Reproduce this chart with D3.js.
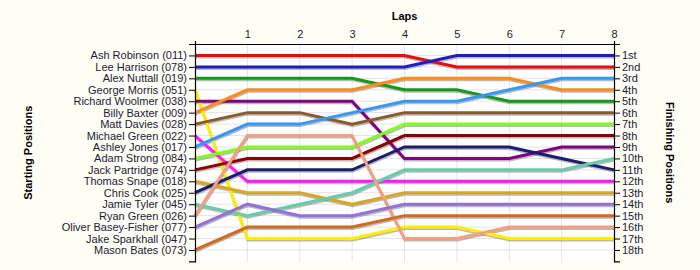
<!DOCTYPE html>
<html>
<head>
<meta charset="utf-8">
<script src="https://cdn.jsdelivr.net/npm/d3@7"></script>
<style>
  body { margin: 0; background: #fefef4; }
  svg { display: block; }
</style>
</head>
<body>
<div class="chart"></div>
<script>
// data
const starters = ["Ash Robinson (011)", "Lee Harrison (078)", "Alex Nuttall (019)", "George Morris (051)",
  "Richard Woolmer (038)", "Billy Baxter (009)", "Matt Davies (028)", "Michael Green (022)",
  "Ashley Jones (017)", "Adam Strong (084)", "Jack Partridge (074)", "Thomas Snape (018)",
  "Chris Cook (025)", "Jamie Tyler (045)", "Ryan Green (026)", "Oliver Basey-Fisher (077)",
  "Jake Sparkhall (047)", "Mason Bates (073)"];
const finishLabels = ["1st", "2nd", "3rd", "4th", "5th", "6th", "7th", "8th", "9th", "10th",
  "11th", "12th", "13th", "14th", "15th", "16th", "17th", "18th"];
const lapTicks = [1, 2, 3, 4, 5, 6, 7, 8];

// position at lap 0..8 for each rider (in starting order), null = no line
const ashRobinson    = [1, 1, 1, 1, 1, 2, 2, 2, 2];
const leeHarrison    = [2, 2, 2, 2, 2, 1, 1, 1, 1];
const alexNuttall    = [3, 3, 3, 3, 4, 4, 5, 5, 5];
const georgeMorris   = [4, 17, 17, 17, 16, 16, 17, 17, 17];
const richardWoolmer = [5, 5, 5, 5, 10, 10, 10, 9, 9];
const billyBaxter    = [6, 4, 4, 4, 3, 3, 3, 4, 4];
const mattDavies     = [7, 6, 6, 7, 6, 6, 6, 6, 6];
const michaelGreen   = [8, 12, 12, 12, 12, 12, 12, 12, 12];
const ashleyJones    = [9, 7, 7, 6, 5, 5, 4, 3, 3];
const adamStrong     = [10, 9, 9, 9, 7, 7, 7, 7, 7];
const jackPartridge  = [11, 10, 10, 10, 8, 8, 8, 8, 8];
const thomasSnape    = [12, 13, 13, 14, 13, 13, 13, 13, 13];
const chrisCook      = [13, 11, 11, 11, 9, 9, 9, 10, 11];
const jamieTyler     = [14, 15, 14, 13, 11, 11, 11, 11, 10];
const ryanGreen      = [15, 8, 8, 8, 17, 17, 16, 16, 16];
const oliverBasey    = [16, 14, 15, 15, 14, 14, 14, 14, 14];
const jakeSparkhall  = null;
const masonBates     = [18, 16, 16, 16, 15, 15, 15, 15, 15];

const riderLaps = [ashRobinson, leeHarrison, alexNuttall, georgeMorris, richardWoolmer, billyBaxter,
  mattDavies, michaelGreen, ashleyJones, adamStrong, jackPartridge, thomasSnape, chrisCook,
  jamieTyler, ryanGreen, oliverBasey, jakeSparkhall, masonBates];

const colors = ["#ee0a0a", "#1c1cc8", "#16991a", "#ffee00", "#800080", "#ff8c1a", "#8b5a2b", "#ff1aff",
  "#3399ff", "#80ff1a", "#8b0000", "#daa520", "#1c1c70", "#66cdaa", "#f4a080", "#9370db",
  "#ffffff", "#d2691e"];

const W = 700, H = 270;
const plotLeft = 195, plotRight = 614, plotTop = 44, plotBottom = 261.4;

const svg = d3.select(".chart").append("svg")
  .attr("width", W).attr("height", H)
  .style("font-family", "'Liberation Sans', Arial, sans-serif");

const xScale = d3.scaleLinear().domain([0, 8]).range([plotLeft, plotRight]);
const yScale = d3.scaleLinear().domain([0, 19]).range([plotTop, plotBottom]);

// plot area
svg.append("rect")
  .attr("x", plotLeft).attr("y", plotTop)
  .attr("width", plotRight - plotLeft).attr("height", plotBottom - plotTop)
  .attr("fill", "#ffffff");

// gridlines
svg.append("g").selectAll("line")
  .data(lapTicks.slice(0, 7))
  .enter().append("line")
  .attr("x1", d => xScale(d)).attr("x2", d => xScale(d))
  .attr("y1", plotTop).attr("y2", plotBottom)
  .attr("stroke", "#e4e4e4");
svg.append("g").selectAll("line")
  .data(d3.range(1, 19))
  .enter().append("line")
  .attr("x1", plotLeft).attr("x2", plotRight)
  .attr("y1", d => yScale(d)).attr("y2", d => yScale(d))
  .attr("stroke", "#e4e4e4");

// rider lines
const line = d3.line()
  .x((d, i) => xScale(i))
  .y(d => yScale(d));

const drawn = riderLaps.map((d, i) => ({laps: d, color: colors[i]})).filter(d => d.laps);

svg.append("g").selectAll("path")
  .data(drawn)
  .enter().append("path")
  .attr("d", d => line(d.laps))
  .attr("fill", "none")
  .attr("stroke", "#666")
  .attr("stroke-opacity", 0.45)
  .attr("stroke-width", 3)
  .attr("transform", "translate(0.5,1.5)");

svg.append("g").selectAll("path")
  .data(drawn)
  .enter().append("path")
  .attr("d", d => line(d.laps))
  .attr("fill", "none")
  .attr("stroke", d => d.color)
  .attr("stroke-width", 3);

// axes
const yLeft = d3.axisLeft(yScale)
  .tickValues(d3.range(1, 19))
  .tickFormat(d => starters[d - 1])
  .tickSize(6);
svg.append("g")
  .attr("transform", `translate(${plotLeft},0)`)
  .call(yLeft)
  .call(g => g.selectAll("text").style("font-size", "11px").attr("fill", "#1a1a3a").attr("dx", "1px"));

const yRight = d3.axisRight(yScale)
  .tickValues(d3.range(1, 19))
  .tickFormat(d => finishLabels[d - 1])
  .tickSize(6);
svg.append("g")
  .attr("transform", `translate(${plotRight},0)`)
  .call(yRight)
  .call(g => g.selectAll("text").style("font-size", "11px").attr("fill", "#1a1a3a").attr("dx", "-1px"));

const xTop = d3.axisTop(xScale)
  .tickValues(lapTicks)
  .tickSizeInner(0)
  .tickSizeOuter(3)
  .tickPadding(6);
svg.append("g")
  .attr("transform", `translate(0,${plotTop})`)
  .call(xTop)
  .call(g => g.selectAll("text").style("font-size", "11px").attr("fill", "#1a1a3a"));

svg.selectAll(".domain").attr("stroke", "#000").attr("stroke-width", 1.2);
svg.selectAll(".tick line").attr("stroke", "#000");

// titles
svg.append("text")
  .attr("x", (plotLeft + plotRight) / 2)
  .attr("y", 20)
  .attr("text-anchor", "middle")
  .style("font-weight", "700")
  .style("font-size", "11px")
  .text("Laps");

svg.append("text")
  .attr("transform", `translate(32,${(plotTop + plotBottom) / 2}) rotate(-90)`)
  .attr("text-anchor", "middle")
  .style("font-weight", "700")
  .style("font-size", "11px")
  .text("Starting Positions");

svg.append("text")
  .attr("transform", `translate(666,${(plotTop + plotBottom) / 2}) rotate(90)`)
  .attr("text-anchor", "middle")
  .style("font-weight", "700")
  .style("font-size", "11px")
  .text("Finishing Positions");
</script>
</body>
</html>
